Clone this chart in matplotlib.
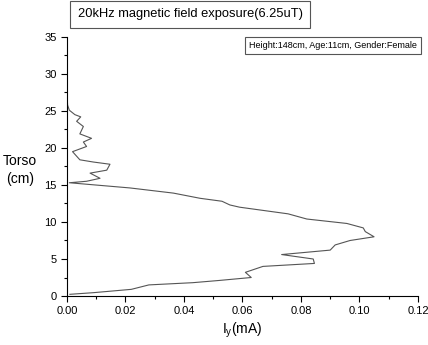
import matplotlib
matplotlib.use("Agg")
import matplotlib.pyplot as plt
from matplotlib.ticker import MultipleLocator

# === DATA ===
torso_cm = [0.23, 0.45, 0.9, 1.5, 1.8, 2.1, 2.5, 3.2, 4.0, 4.4, 5.0, 5.6, 6.2, 6.9,
            7.5, 8.0, 8.7, 9.2, 9.8, 10.4, 11.1, 12.0, 12.3, 12.8, 13.2, 13.9, 14.6,
            15.3, 15.5, 15.9, 16.6, 17.0, 17.8, 18.1, 18.4, 19.5, 20.2, 20.8, 21.3,
            21.9, 22.9, 23.6, 24.2, 24.5, 25.1, 25.8, 27.6]
iy_ma = [0.001, 0.009, 0.022, 0.028, 0.043, 0.052, 0.063, 0.061, 0.067, 0.0846,
         0.0842, 0.0734, 0.090, 0.0917, 0.0968, 0.105, 0.102, 0.1013, 0.0957, 0.082,
         0.0756, 0.059, 0.0557, 0.053, 0.0455, 0.0364, 0.0215, 0.0008, 0.0067,
         0.0113, 0.0079, 0.0136, 0.0147, 0.009, 0.0044, 0.0019, 0.0067, 0.0056,
         0.0084, 0.0044, 0.0056, 0.0033, 0.0047, 0.0027, 0.0008, 0.0002, 0.0]

title = "20kHz magnetic field exposure(6.25uT)"
info = "Height:148cm, Age:11cm, Gender:Female"

plt.rcParams['font.family'] = ['Liberation Sans', 'DejaVu Sans']

fig = plt.figure(figsize=(4.28, 3.45), dpi=100)
ax = fig.add_axes([0.1565, 0.142, 0.820, 0.751])

ax.plot(iy_ma, torso_cm, color="#555555", lw=0.8)

ax.set_xlim(0, 0.12)
ax.set_ylim(0, 35)
ax.spines['top'].set_visible(False)
ax.spines['right'].set_visible(False)
ax.xaxis.set_major_locator(MultipleLocator(0.02))
ax.xaxis.set_minor_locator(MultipleLocator(0.01))
ax.yaxis.set_major_locator(MultipleLocator(5))
ax.yaxis.set_minor_locator(MultipleLocator(2.5))
ax.xaxis.set_major_formatter(plt.FuncFormatter(lambda v, p: f"{v:.2f}"))
ax.tick_params(which='major', length=4, width=0.8, labelsize=8)
ax.tick_params(which='minor', length=2.5, width=0.8)

ax.set_xlabel("I$_\\mathregular{y}$(mA)", fontsize=10, labelpad=3)
fig.text(0.047, 0.507, "Torso\n(cm)", fontsize=10, ha='center', va='center',
         linespacing=1.3)

fig.text(0.444, 0.958, title, fontsize=9.3, ha='center', va='center',
         bbox=dict(boxstyle='square,pad=0.55', fc='white', ec='#555555', lw=0.8))
fig.text(0.778, 0.867, info, fontsize=6.5, ha='center', va='center',
         bbox=dict(boxstyle='square,pad=0.45', fc='white', ec='#555555', lw=0.8))

fig.savefig("out.png", dpi=100)
